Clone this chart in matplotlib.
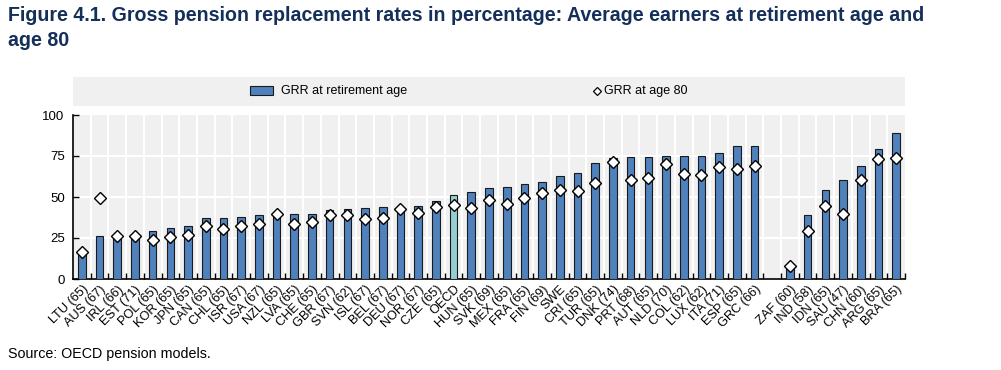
import matplotlib
matplotlib.use("Agg")
import matplotlib.pyplot as plt
from matplotlib.patches import Rectangle
from matplotlib.lines import Line2D
import numpy as np

plt.rcParams['font.family'] = ['Liberation Sans', 'DejaVu Sans']

# ---- data ----
labels_oecd = ["LTU (65)", "AUS (67)", "IRL (66)", "EST (71)", "POL (65)", "KOR (65)",
               "JPN (65)", "CAN (65)", "CHL (65)", "ISR (67)", "USA (67)", "NZL (65)",
               "LVA (65)", "CHE (65)", "GBR (67)", "SVN (62)", "ISL (67)", "BEL (67)",
               "DEU (67)", "NOR (67)", "CZE (65)", "OECD", "HUN (65)", "SVK (69)",
               "MEX (65)", "FRA (65)", "FIN (69)", "SWE", "CRI (65)", "TUR (65)",
               "DNK (74)", "PRT (68)", "AUT (65)", "NLD (70)", "COL (62)", "LUX (62)",
               "ITA (71)", "ESP (65)", "GRC (66)"]
grr_ret_oecd = [16.5, 26.0, 26.2, 26.8, 29.3, 31.3, 32.3, 37.0, 37.0, 38.0, 39.0, 39.4,
                39.6, 39.8, 41.9, 42.5, 43.1, 43.7, 43.0, 44.5, 47.4, 51.0, 52.8, 55.3,
                55.9, 57.7, 58.9, 62.6, 64.6, 70.9, 73.6, 74.2, 74.6, 75.2, 75.0, 75.2,
                76.6, 80.9, 81.3]
grr_80_oecd = [16.3, 49.6, 26.0, 26.4, 24.0, 25.6, 27.0, 32.3, 30.7, 32.3, 33.3, 39.4,
               33.3, 34.8, 38.8, 38.8, 36.8, 37.0, 42.5, 40.4, 44.1, 44.9, 43.5, 48.2,
               45.9, 49.2, 52.6, 54.1, 53.7, 58.7, 71.1, 60.4, 61.8, 69.9, 64.0, 63.6,
               68.5, 67.3, 68.9]

labels_other = ["ZAF (60)", "IND (58)", "IDN (65)", "SAU (47)", "CHN (60)", "ARG (65)", "BRA (65)"]
grr_ret_other = [7.5, 38.8, 54.1, 60.2, 68.7, 79.1, 88.8]
grr_80_other = [8.1, 29.5, 44.5, 39.6, 60.6, 73.4, 73.8]

yticks = [0, 25, 50, 75, 100]

title = ("Figure 4.1. Gross pension replacement rates in percentage: Average earners at retirement age and\n"
         "age 80")
source = "Source: OECD pension models."
legend_bar = "GRR at retirement age"
legend_dia = "GRR at age 80"

# ---- layout ----
BLUE = "#4f81bd"
TEAL = "#93cfd1"
BG = "#f0f0f0"

n1 = len(labels_oecd)
pos_oecd = np.arange(n1)
pos_other = np.arange(n1 + 1, n1 + 1 + len(labels_other))
positions = np.concatenate([pos_oecd, pos_other])
labels = labels_oecd + labels_other
grr_ret = grr_ret_oecd + grr_ret_other
grr_80 = grr_80_oecd + grr_80_other
colors = [TEAL if l == "OECD" else BLUE for l in labels]
nslots = n1 + 1 + len(labels_other)

fig = plt.figure(figsize=(10.01, 3.70), dpi=100)
ax = fig.add_axes([73 / 1001, 1 - 279 / 370, (905 - 73) / 1001, (279 - 115) / 370])
ax.set_facecolor(BG)

ax.bar(positions, grr_ret, width=0.43, color=colors, edgecolor="#1a1a1a", linewidth=0.8, zorder=3)
ax.plot(positions, grr_80, linestyle="none", marker="D", markersize=6.3,
        markerfacecolor="white", markeredgecolor="black", markeredgewidth=1.0, zorder=4)

ax.set_xlim(-0.5, nslots - 0.5)
ax.set_ylim(0, 100)

# grid (white) at category boundaries and y ticks
bounds = np.arange(-0.5, nslots + 0.5, 1.0)
for b in bounds[1:-1]:
    ax.axvline(b, color="white", linewidth=1.5, zorder=1)
for yv in yticks[1:-1]:
    ax.axhline(yv, color="white", linewidth=1.5, zorder=1)

ax.set_yticks(yticks)
ax.set_yticklabels([str(v) for v in yticks], fontsize=9.5)
ax.tick_params(axis="y", direction="in", length=4, width=1, pad=6, colors="black")

ax.set_xticks(positions)
ax.set_xticklabels(labels, rotation=45, ha="right", rotation_mode="anchor", fontsize=9.2)
ax.tick_params(axis="x", which="major", length=0, pad=3)
ax.set_xticks(bounds[1:], minor=True)
ax.tick_params(axis="x", which="minor", direction="in", length=4, width=1, color="black")

for s in ["top", "right"]:
    ax.spines[s].set_visible(False)
for s in ["left", "bottom"]:
    ax.spines[s].set_color("black")
    ax.spines[s].set_linewidth(1.2)

# legend band
fig.patches.append(Rectangle((73 / 1001, 1 - 106 / 370), (905 - 73) / 1001, 29 / 370,
                             transform=fig.transFigure, facecolor=BG, edgecolor="none", zorder=0))
fig.patches.append(Rectangle((250 / 1001, 1 - 94.5 / 370), 23 / 1001, 8.5 / 370,
                             transform=fig.transFigure, facecolor=BLUE, edgecolor="#1a1a1a",
                             linewidth=0.8, zorder=2))
fig.text(281 / 1001, 1 - 91 / 370, legend_bar, fontsize=9, va="center", ha="left")
fig.lines.append(Line2D([597 / 1001], [1 - 91 / 370], transform=fig.transFigure, marker="D",
                        markersize=4, markerfacecolor="white", markeredgecolor="black",
                        markeredgewidth=0.9, linestyle="none"))
fig.text(604 / 1001, 1 - 91 / 370, legend_dia, fontsize=9, va="center", ha="left")

fig.text(8 / 1001, 1 - 6 / 370, title, fontsize=14.1, fontweight="bold", color="#142f5a",
         ha="left", va="top", linespacing=1.38)
fig.text(8 / 1001, 1 - 358 / 370, source, fontsize=10.3, ha="left", va="baseline")

fig.savefig("out.png", dpi=100)
